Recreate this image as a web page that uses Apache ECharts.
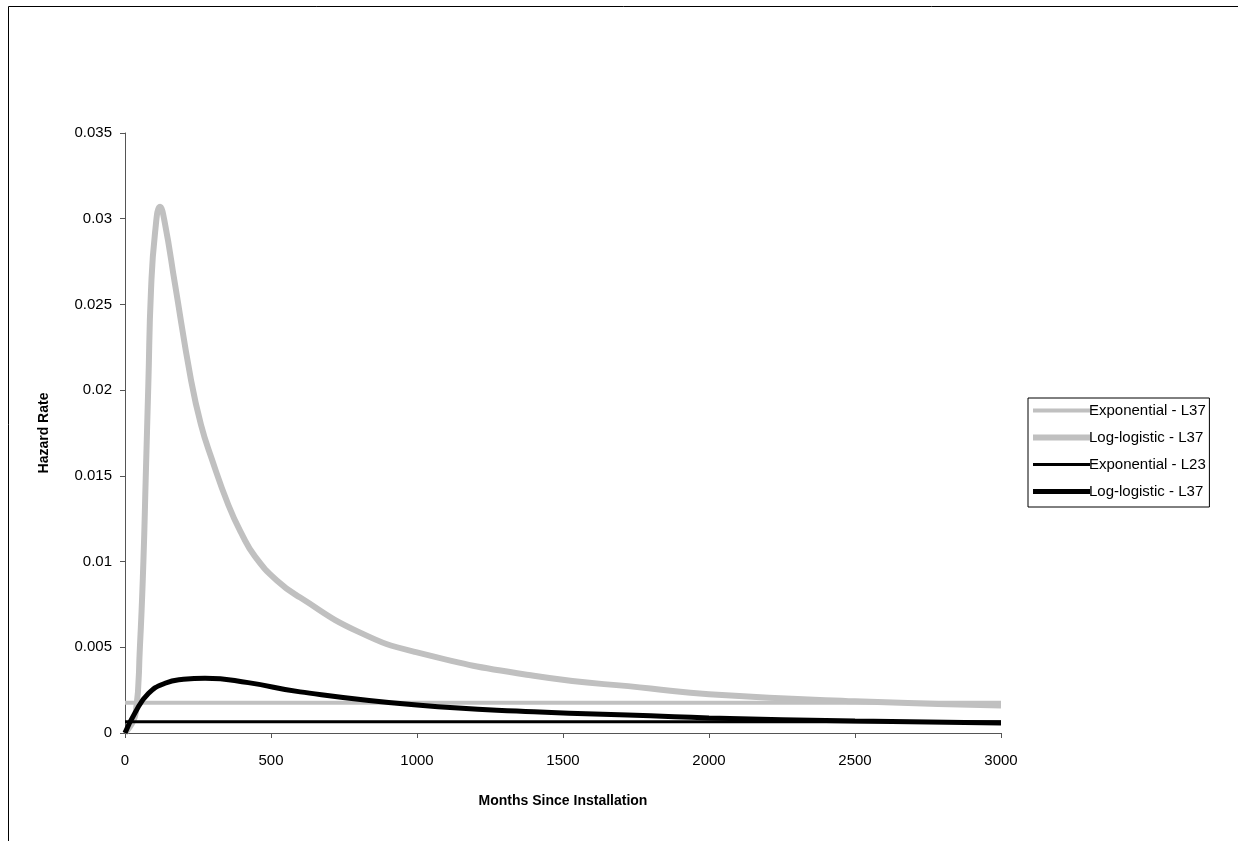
<!DOCTYPE html>
<html>
<head>
<meta charset="utf-8">
<script src="https://cdn.jsdelivr.net/npm/echarts@6/dist/echarts.min.js"></script>
<style>
html,body{margin:0;padding:0;background:#fff;}
#chart{width:1238px;height:841px;}
</style>
</head>
<body>
<div id="chart"></div>
<script>
// Series names (legend order)
const seriesNames = ['Exponential - L37', 'Log-logistic - L37', 'Exponential - L23', 'Log-logistic - L37 '];
// [months, hazard rate]
const expL37 = [[0, 0.00177], [3000, 0.00177]];
const logLogL37 = [
  [0, 0], [37, 0.0012], [51, 0.0050], [63, 0.0100], [71, 0.0149],
  [80, 0.0204], [89, 0.0258], [103, 0.0292], [120, 0.0307], [137, 0.0297],
  [171, 0.0262], [226, 0.0206], [260, 0.0180], [297, 0.0160], [354, 0.0133],
  [400, 0.0116], [445, 0.0103], [520, 0.0089], [600, 0.0079], [800, 0.0059],
  [1000, 0.0047], [1400, 0.00334], [1800, 0.0026], [2000, 0.00226],
  [2500, 0.00185], [3000, 0.00161]
];
const expL23 = [[0, 0.00066], [3000, 0.00066]];
const logLogL37b = [
  [0, 0], [34, 0.00117], [80, 0.0023], [137, 0.0029], [200, 0.00313], [274, 0.0032],
  [422, 0.00294], [600, 0.0024], [1000, 0.00163], [1400, 0.00124], [1800, 0.0010],
  [2000, 0.00088], [2500, 0.0007], [3000, 0.00058]
];
const xTicks = {min: 0, max: 3000, interval: 500};
const yTicks = {min: 0, max: 0.035, interval: 0.005};

const FONT = '"Liberation Sans", Arial, sans-serif';
const chart = echarts.init(document.getElementById('chart'), null, {renderer: 'canvas'});
const option = {
  backgroundColor: '#fff',
  animation: false,
  graphic: [{
    type: 'rect', silent: true,
    shape: {x: 8.5, y: 6.5, width: 1400, height: 1000},
    style: {fill: 'none', stroke: '#000', lineWidth: 1}
  }],
  grid: {left: 125, right: 237, top: 133, bottom: 108, containLabel: false},
  legend: {
    orient: 'vertical', left: 1028, top: 398,
    itemWidth: 57, itemHeight: 14, itemGap: 12,
    padding: [5, 2, 8, 2],
    borderColor: '#000', borderWidth: 1,
    itemStyle: {opacity: 0},
    textStyle: {fontFamily: FONT, fontSize: 15, color: '#000', padding: [0, 0, 0, -6]},
    data: [
      {name: seriesNames[0], lineStyle: {width: 4}},
      {name: seriesNames[1], lineStyle: {width: 6}},
      {name: seriesNames[2], lineStyle: {width: 3}},
      {name: seriesNames[3], lineStyle: {width: 5}}
    ]
  },
  xAxis: {
    type: 'value', min: xTicks.min, max: xTicks.max, interval: xTicks.interval,
    name: 'Months Since Installation', nameLocation: 'middle', nameGap: 61,
    nameTextStyle: {fontFamily: FONT, fontSize: 14, fontWeight: 'bold', color: '#000'},
    axisLine: {show: true, lineStyle: {color: '#555', width: 1}},
    axisTick: {show: true, inside: false, length: 5, lineStyle: {color: '#555'}},
    axisLabel: {fontFamily: FONT, fontSize: 15, color: '#000', margin: 20,
      formatter: v => String(v)},
    splitLine: {show: false}
  },
  yAxis: {
    type: 'value', min: yTicks.min, max: yTicks.max, interval: yTicks.interval,
    name: 'Hazard Rate', nameLocation: 'middle', nameGap: 74, nameRotate: 90,
    nameTextStyle: {fontFamily: FONT, fontSize: 14, fontWeight: 'bold', color: '#000'},
    axisLine: {show: true, lineStyle: {color: '#555', width: 1}},
    axisTick: {show: true, inside: false, length: 5, lineStyle: {color: '#555'}},
    axisLabel: {fontFamily: FONT, fontSize: 15, color: '#000', margin: 13,
      formatter: v => String(parseFloat(v.toFixed(3)))},
    splitLine: {show: false}
  },
  series: [
    {name: seriesNames[0], type: 'line', data: expL37, symbol: 'none',
     lineStyle: {color: '#c0c0c0', width: 4}, itemStyle: {color: '#c0c0c0'}},
    {name: seriesNames[1], type: 'line', data: logLogL37, symbol: 'none', smooth: 0.5,
     lineStyle: {color: '#c0c0c0', width: 6}, itemStyle: {color: '#c0c0c0'}},
    {name: seriesNames[2], type: 'line', data: expL23, symbol: 'none',
     lineStyle: {color: '#000', width: 3}, itemStyle: {color: '#000'}},
    {name: seriesNames[3], type: 'line', data: logLogL37b, symbol: 'none', smooth: 0.5,
     lineStyle: {color: '#000', width: 5}, itemStyle: {color: '#000'}}
  ]
};
chart.setOption(option);
</script>
</body>
</html>
